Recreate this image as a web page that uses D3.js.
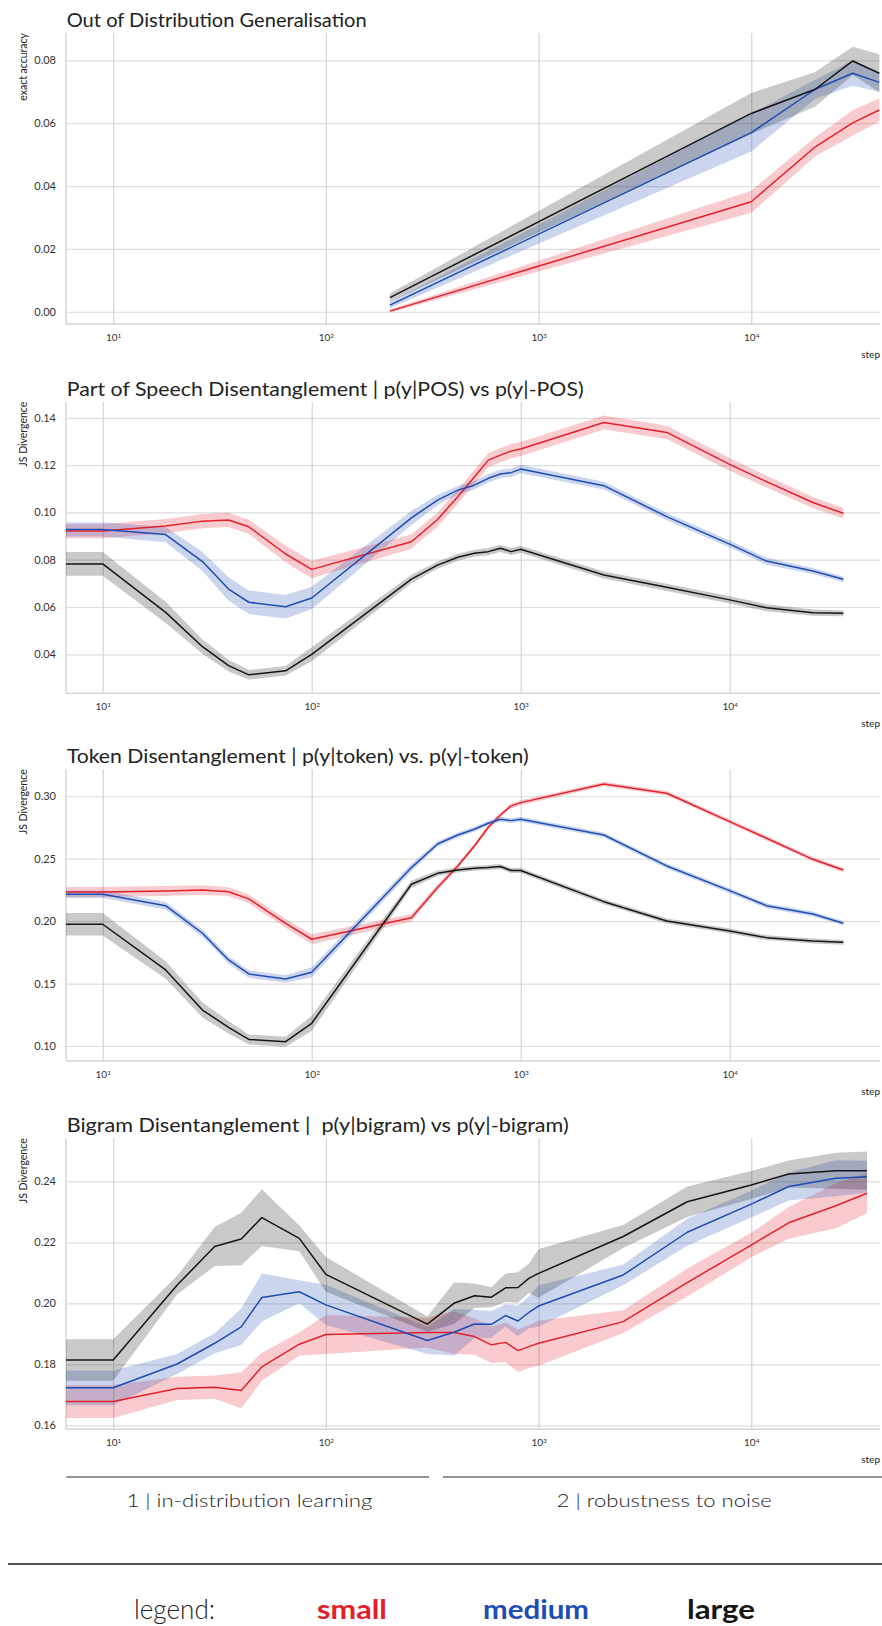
<!DOCTYPE html>
<html>
<head>
<meta charset="utf-8">
<script src="https://cdn.jsdelivr.net/npm/d3@7"></script>
<style>
  body { margin: 0; background: #fff; }
  svg { display: block; font-family: Lato, "Noto Sans", sans-serif; }
</style>
</head>
<body>
<svg id="fig" width="882" height="1626"></svg>
<script>
// ---- shared ticks ----
const xTicks = [10, 100, 1000, 10000];
const oodYTicks = [0.00, 0.02, 0.04, 0.06, 0.08];
const posYTicks = [0.04, 0.06, 0.08, 0.10, 0.12, 0.14];
const tokYTicks = [0.10, 0.15, 0.20, 0.25, 0.30];
const bigYTicks = [0.16, 0.18, 0.20, 0.22, 0.24];

// ---- out of distribution generalisation ----
const oodSteps    = [200, 10000, 20000, 30000, 40000];
const oodSmall    = [0.0002, 0.0350, 0.0525, 0.0601, 0.0642];
const oodSmallCI  = [0.0005, 0.0035, 0.0030, 0.0040, 0.0037];
const oodMedium   = [0.0021, 0.0570, 0.0708, 0.0759, 0.0730];
const oodMediumCI = [0.0010, 0.0060, 0.0030, 0.0040, 0.0030];
const oodLarge    = [0.0045, 0.0631, 0.0708, 0.0798, 0.0759];
const oodLargeCI  = [0.0013, 0.0065, 0.0055, 0.0045, 0.0060];

// ---- training steps for the disentanglement probes ----
const probeSteps = [1, 10, 20, 30, 40, 50, 75, 100, 300, 400, 500, 600, 700, 800, 900, 1000, 2500, 5000, 10000, 15000, 25000, 35000];

// ---- part of speech ----
const posSmall    = [0.0921, 0.0921, 0.0942, 0.0963, 0.0968, 0.0939, 0.0824, 0.0759, 0.0876, 0.0970, 0.1066, 0.1150, 0.1221, 0.1242, 0.1259, 0.1268, 0.1380, 0.1338, 0.1203, 0.1130, 0.1042, 0.0996];
const posSmallCI  = [0.0030, 0.0030, 0.0030, 0.0030, 0.0030, 0.0030, 0.0035, 0.0037, 0.0030, 0.0030, 0.0030, 0.0030, 0.0030, 0.0030, 0.0030, 0.0030, 0.0030, 0.0028, 0.0027, 0.0025, 0.0023, 0.0022];
const posMedium   = [0.0928, 0.0928, 0.0906, 0.0792, 0.0676, 0.0620, 0.0601, 0.0638, 0.0977, 0.1052, 0.1094, 0.1115, 0.1144, 0.1162, 0.1168, 0.1183, 0.1113, 0.0982, 0.0866, 0.0794, 0.0752, 0.0717];
const posMediumCI = [0.0030, 0.0030, 0.0032, 0.0040, 0.0050, 0.0050, 0.0050, 0.0048, 0.0030, 0.0022, 0.0018, 0.0018, 0.0018, 0.0018, 0.0018, 0.0018, 0.0016, 0.0015, 0.0015, 0.0015, 0.0013, 0.0012];
const posLarge    = [0.0782, 0.0782, 0.0577, 0.0432, 0.0352, 0.0313, 0.0330, 0.0400, 0.0718, 0.0777, 0.0810, 0.0827, 0.0834, 0.0848, 0.0834, 0.0844, 0.0735, 0.0683, 0.0630, 0.0597, 0.0576, 0.0573];
const posLargeCI  = [0.0050, 0.0050, 0.0045, 0.0030, 0.0025, 0.0020, 0.0020, 0.0030, 0.0018, 0.0015, 0.0015, 0.0015, 0.0015, 0.0015, 0.0015, 0.0015, 0.0015, 0.0015, 0.0015, 0.0015, 0.0013, 0.0012];

// ---- token ----
const tokSmall    = [0.2234, 0.2234, 0.2242, 0.2250, 0.2236, 0.2178, 0.1983, 0.1855, 0.2028, 0.2270, 0.2442, 0.2602, 0.2752, 0.2850, 0.2923, 0.2949, 0.3099, 0.3024, 0.2797, 0.2664, 0.2495, 0.2410];
const tokSmallCI  = [0.0040, 0.0040, 0.0040, 0.0038, 0.0035, 0.0035, 0.0035, 0.0040, 0.0030, 0.0025, 0.0022, 0.0020, 0.0020, 0.0020, 0.0020, 0.0020, 0.0018, 0.0018, 0.0018, 0.0018, 0.0018, 0.0018];
const tokMedium   = [0.2215, 0.2215, 0.2124, 0.1903, 0.1689, 0.1577, 0.1537, 0.1590, 0.2429, 0.2618, 0.2690, 0.2736, 0.2784, 0.2816, 0.2805, 0.2816, 0.2690, 0.2442, 0.2244, 0.2124, 0.2057, 0.1983];
const tokMediumCI = [0.0030, 0.0030, 0.0030, 0.0030, 0.0030, 0.0030, 0.0030, 0.0040, 0.0030, 0.0022, 0.0020, 0.0020, 0.0020, 0.0020, 0.0020, 0.0020, 0.0020, 0.0020, 0.0020, 0.0020, 0.0020, 0.0018];
const tokLarge    = [0.1975, 0.1975, 0.1609, 0.1288, 0.1150, 0.1053, 0.1035, 0.1182, 0.2295, 0.2383, 0.2410, 0.2423, 0.2429, 0.2437, 0.2405, 0.2405, 0.2156, 0.2001, 0.1921, 0.1868, 0.1841, 0.1830];
const tokLargeCI  = [0.0090, 0.0090, 0.0070, 0.0060, 0.0050, 0.0040, 0.0040, 0.0060, 0.0030, 0.0022, 0.0020, 0.0020, 0.0020, 0.0020, 0.0020, 0.0020, 0.0020, 0.0020, 0.0020, 0.0020, 0.0020, 0.0020];

// ---- bigram ----
const bigSmall    = [0.1678, 0.1678, 0.1721, 0.1725, 0.1714, 0.1792, 0.1866, 0.1898, 0.1904, 0.1904, 0.1891, 0.1864, 0.1872, 0.1845, 0.1858, 0.1869, 0.1940, 0.2068, 0.2191, 0.2264, 0.2320, 0.2361];
const bigSmallCI  = [0.0054, 0.0054, 0.0038, 0.0038, 0.0059, 0.0046, 0.0038, 0.0064, 0.0049, 0.0070, 0.0060, 0.0060, 0.0065, 0.0070, 0.0070, 0.0074, 0.0037, 0.0046, 0.0040, 0.0052, 0.0074, 0.0066];
const bigMedium   = [0.1723, 0.1723, 0.1801, 0.1869, 0.1923, 0.2019, 0.2038, 0.1995, 0.1878, 0.1905, 0.1932, 0.1931, 0.1960, 0.1942, 0.1970, 0.1991, 0.2093, 0.2233, 0.2325, 0.2383, 0.2410, 0.2415];
const bigMediumCI = [0.0057, 0.0057, 0.0033, 0.0033, 0.0060, 0.0079, 0.0038, 0.0066, 0.0044, 0.0076, 0.0047, 0.0044, 0.0037, 0.0050, 0.0052, 0.0068, 0.0034, 0.0044, 0.0044, 0.0046, 0.0059, 0.0052];
const bigLarge    = [0.1814, 0.1814, 0.2060, 0.2186, 0.2211, 0.2281, 0.2213, 0.2095, 0.1932, 0.2000, 0.2025, 0.2020, 0.2051, 0.2052, 0.2082, 0.2098, 0.2219, 0.2333, 0.2388, 0.2424, 0.2435, 0.2435];
const bigLargeCI  = [0.0068, 0.0068, 0.0030, 0.0064, 0.0086, 0.0093, 0.0042, 0.0057, 0.0025, 0.0068, 0.0040, 0.0033, 0.0047, 0.0050, 0.0048, 0.0080, 0.0038, 0.0050, 0.0046, 0.0044, 0.0059, 0.0063];

// ---- model sizes ----
const sizeNames = ["small", "medium", "large"];
const sizeColors = { small: "#e3202a", medium: "#1d4cb5", large: "#151515" };

const svg = d3.select("#fig");
const L = 66, R = 880;

const panels = [
  { title: "Out of Distribution Generalisation", titleW: 300, titleY: 27, ylabel: "exact accuracy",
    top: 33, bottom: 324, xDomain: [6, 40300], yDomain: [-0.0039, 0.0887], yTicks: oodYTicks,
    steps: oodSteps,
    series: { small: [oodSmall, oodSmallCI], medium: [oodMedium, oodMediumCI], large: [oodLarge, oodLargeCI] } },
  { title: "Part of Speech Disentanglement | p(y|POS) vs p(y|-POS)", titleW: 517, titleY: 395.5, ylabel: "JS Divergence",
    top: 401.7, bottom: 693.3, xDomain: [6.67, 52400], yDomain: [0.0235, 0.1468], yTicks: posYTicks,
    steps: probeSteps,
    series: { small: [posSmall, posSmallCI], medium: [posMedium, posMediumCI], large: [posLarge, posLargeCI] } },
  { title: "Token Disentanglement | p(y|token) vs. p(y|-token)", titleW: 462, titleY: 763.3, ylabel: "JS Divergence",
    top: 769.3, bottom: 1061, xDomain: [6.67, 52400], yDomain: [0.088, 0.3216], yTicks: tokYTicks,
    steps: probeSteps,
    series: { small: [tokSmall, tokSmallCI], medium: [tokMedium, tokMediumCI], large: [tokLarge, tokLargeCI] } },
  { title: "Bigram Disentanglement |  p(y|bigram) vs p(y|-bigram)", titleW: 502, titleY: 1132, ylabel: "JS Divergence",
    top: 1138.3, bottom: 1429.3, xDomain: [6, 40300], yDomain: [0.1587, 0.2541], yTicks: bigYTicks,
    steps: probeSteps,
    series: { small: [bigSmall, bigSmallCI], medium: [bigMedium, bigMediumCI], large: [bigLarge, bigLargeCI] } }
];

const supDigits = { 1: "1", 2: "2", 3: "3", 4: "4" };

panels.forEach((p, i) => {
  const g = svg.append("g");
  const x = d3.scaleLog().domain(p.xDomain).range([L, R]);
  const y = d3.scaleLinear().domain(p.yDomain).range([p.bottom, p.top]);

  const clipId = "plot-clip-" + i;
  svg.append("clipPath").attr("id", clipId)
    .append("rect").attr("x", L).attr("y", p.top).attr("width", R - L).attr("height", p.bottom - p.top);

  // horizontal grid and y tick labels
  const yAxis = g.append("g").attr("transform", `translate(${L},0)`)
    .call(d3.axisLeft(y).tickValues(p.yTicks).tickFormat(d3.format(".2f"))
      .tickSize(-(R - L)).tickPadding(10));
  yAxis.select(".domain").remove();
  yAxis.selectAll(".tick line").attr("stroke", "#dddddd").attr("stroke-width", 1.2);
  yAxis.selectAll(".tick text").attr("fill", "#333").attr("font-size", 11).attr("font-family", "Lato, sans-serif");

  // vertical grid and x tick labels (powers of ten)
  const xAxis = g.append("g").attr("transform", `translate(0,${p.bottom})`)
    .call(d3.axisBottom(x).tickValues(xTicks).tickSize(-(p.bottom - p.top)).tickPadding(10).tickFormat(() => ""));
  xAxis.select(".domain").remove();
  xAxis.selectAll(".tick line").attr("stroke", "#d4d4d4").attr("stroke-width", 1.2);
  xAxis.selectAll(".tick text").each(function (d) {
    const t = d3.select(this).attr("fill", "#333").attr("font-size", 10).attr("font-family", "Lato, sans-serif");
    t.text("10");
    t.append("tspan").attr("dy", "-0.45em").attr("font-size", 6.5).text(supDigits[Math.round(Math.log10(d))]);
  });

  // spines
  g.append("line").attr("x1", L).attr("x2", L).attr("y1", p.top).attr("y2", p.bottom)
    .attr("stroke", "#d6d6d6").attr("stroke-width", 1.5);
  g.append("line").attr("x1", L).attr("x2", R).attr("y1", p.bottom).attr("y2", p.bottom)
    .attr("stroke", "#d6d6d6").attr("stroke-width", 1.5);

  // series
  const plot = g.append("g").attr("clip-path", `url(#${clipId})`);
  const area = d3.area().x(d => x(d.step)).y0(d => y(d.v - d.ci)).y1(d => y(d.v + d.ci));
  const line = d3.line().x(d => x(d.step)).y(d => y(d.v));
  const rows = sizeNames.map(name => {
    const [vals, cis] = p.series[name];
    return { name, pts: p.steps.map((s, k) => ({ step: s, v: vals[k], ci: cis[k] })) };
  });
  rows.forEach(r => {
    plot.append("path").datum(r.pts).attr("d", area)
      .attr("fill", sizeColors[r.name]).attr("fill-opacity", 0.23).attr("stroke", "none");
  });
  rows.forEach(r => {
    plot.append("path").datum(r.pts).attr("d", line)
      .attr("fill", "none").attr("stroke", sizeColors[r.name]).attr("stroke-width", 1.5)
      .attr("stroke-linejoin", "round");
  });

  // title
  g.append("text").attr("x", 66.7).attr("y", p.titleY)
    .attr("font-size", 20).attr("fill", "#222").style("white-space", "pre")
    .attr("textLength", p.titleW).attr("lengthAdjust", "spacingAndGlyphs")
    .text(p.title);

  // y label, aligned to the top of the axes
  g.append("text").attr("transform", `translate(27,${p.top}) rotate(-90)`)
    .attr("text-anchor", "end").attr("font-size", 10.5).attr("fill", "#222")
    .text(p.ylabel);

  // x label
  g.append("text").attr("x", R).attr("y", p.bottom + 34).attr("text-anchor", "end")
    .attr("font-size", 10).attr("fill", "#222").text("step");
});

// ---- phase annotations ----
const phases = [
  { label: "1 | in-distribution learning", x1: 66.4, x2: 429, cx: 249.4, w: 246 },
  { label: "2 | robustness to noise", x1: 443, x2: 882, cx: 664.3, w: 215 }
];
phases.forEach(ph => {
  svg.append("line").attr("x1", ph.x1).attr("x2", ph.x2).attr("y1", 1477).attr("y2", 1477)
    .attr("stroke", "#2a2a2a").attr("stroke-width", 1.2);
  svg.append("text").attr("x", ph.cx).attr("y", 1507).attr("text-anchor", "middle")
    .attr("font-size", 18).attr("font-weight", 300).attr("fill", "#222")
    .attr("textLength", ph.w).attr("lengthAdjust", "spacingAndGlyphs")
    .text(ph.label);
});

// ---- legend ----
svg.append("line").attr("x1", 8).attr("x2", 882).attr("y1", 1564).attr("y2", 1564)
  .attr("stroke", "#1a1a1a").attr("stroke-width", 1.5);
svg.append("text").attr("x", 134).attr("y", 1619).attr("font-size", 27).attr("font-weight", 300)
  .attr("fill", "#222").attr("textLength", 81).attr("lengthAdjust", "spacingAndGlyphs").text("legend:");
const legendPos = { small: [352, 70], medium: [536, 106], large: [721, 68] };
sizeNames.forEach(name => {
  svg.append("text").attr("x", legendPos[name][0]).attr("y", 1619).attr("text-anchor", "middle")
    .attr("font-size", 27).attr("font-weight", 700).attr("fill", sizeColors[name])
    .attr("textLength", legendPos[name][1]).attr("lengthAdjust", "spacingAndGlyphs")
    .text(name);
});
</script>
</body>
</html>
